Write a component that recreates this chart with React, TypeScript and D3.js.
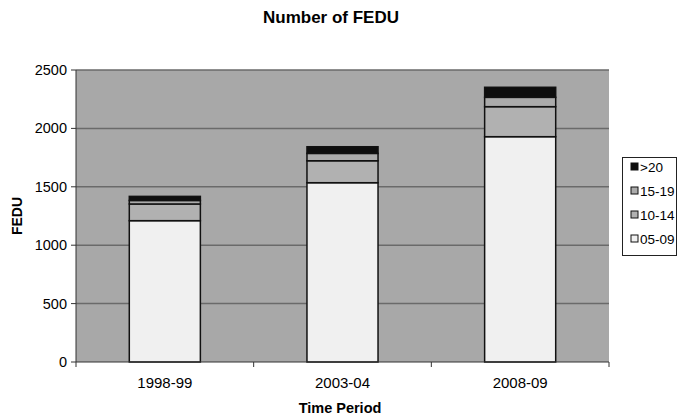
// @ts-nocheck
import React from 'react';
import * as d3 from 'd3';

const periods = ['1998-99', '2003-04', '2008-09'];
const seriesNames = ['05-09', '10-14', '15-19', '>20'];
const v0509 = [1210, 1535, 1929];
const v1014 = [143, 188, 257];
const v1519 = [30, 63, 80];
const v20 = [35, 57, 86];
const yTicks = [0, 500, 1000, 1500, 2000, 2500];

const colors = {
  '05-09': '#f0f0f0',
  '10-14': '#b1b1b1',
  '15-19': '#ababab',
  '>20': '#0e0e0e',
};

const W = 677;
const H = 419;
const plot = { left: 76, right: 609, top: 70, bottom: 362 };
const font = 'Arial, "Liberation Sans", sans-serif';

export default function App() {
  const rows = periods.map((p, i) => ({
    period: p,
    '05-09': v0509[i],
    '10-14': v1014[i],
    '15-19': v1519[i],
    '>20': v20[i],
  }));
  const stacked = d3.stack().keys(seriesNames)(rows);

  const x = d3.scaleBand().domain(periods).range([plot.left, plot.right]).paddingInner(0).paddingOuter(0);
  const barW = x.bandwidth() * 0.4;
  const y = d3.scaleLinear().domain([0, 2500]).range([plot.bottom, plot.top]);

  const legendItems = [...seriesNames].reverse();

  return (
    <svg width={W} height={H} style={{ position: 'absolute', left: 0, top: 0, background: '#fff' }} fontFamily={font}>
      <text x={331} y={23} textAnchor="middle" fontSize={17} fontWeight="bold">Number of FEDU</text>

      <rect x={plot.left} y={plot.top} width={plot.right - plot.left} height={plot.bottom - plot.top} fill="#a8a8a8" />
      {yTicks.map(t => (
        <g key={t}>
          {t > 0 && <line x1={plot.left} x2={plot.right} y1={y(t)} y2={y(t)} stroke="#6a6a6a" strokeWidth={1.5} />}
          <line x1={plot.left - 5} x2={plot.left} y1={y(t)} y2={y(t)} stroke="#333" />
          <text x={plot.left - 9} y={y(t)} dy="0.35em" textAnchor="end" fontSize={14.5}>{t}</text>
        </g>
      ))}

      {stacked.map(s => (
        <g key={s.key}>
          {s.map((d, i) => (
            <rect key={i}
              x={x(periods[i]) + (x.bandwidth() - barW) / 2}
              y={y(d[1])}
              width={barW}
              height={y(d[0]) - y(d[1])}
              fill={colors[s.key]}
              stroke="#111"
              strokeWidth={1.5} />
          ))}
        </g>
      ))}

      <line x1={plot.left} x2={plot.left} y1={plot.top} y2={plot.bottom} stroke="#333" />
      <line x1={plot.left} x2={plot.right} y1={plot.bottom} y2={plot.bottom} stroke="#333" />
      {[...periods.map(p => x(p)), plot.right].map((xv, i) => (
        <line key={i} x1={xv} x2={xv} y1={plot.bottom} y2={plot.bottom + 5} stroke="#333" />
      ))}
      {periods.map(p => (
        <text key={p} x={x(p) + x.bandwidth() / 2} y={388} textAnchor="middle" fontSize={15}>{p}</text>
      ))}

      <text x={340} y={413} textAnchor="middle" fontSize={14.5} fontWeight="bold">Time Period</text>
      <text transform={`translate(22,${216}) rotate(-90)`} textAnchor="middle" fontSize={14} fontWeight="bold">FEDU</text>

      <rect x={622.5} y={157.5} width={54} height={98} fill="#fff" stroke="#222" />
      {legendItems.map((k, i) => (
        <g key={k} transform={`translate(631,${167 + i * 24})`}>
          <rect x={0} y={-4} width={7} height={7} fill={colors[k]} stroke="#111" />
          <text x={9} y={0} dy="0.35em" fontSize={13.5}>{k}</text>
        </g>
      ))}
    </svg>
  );
}
